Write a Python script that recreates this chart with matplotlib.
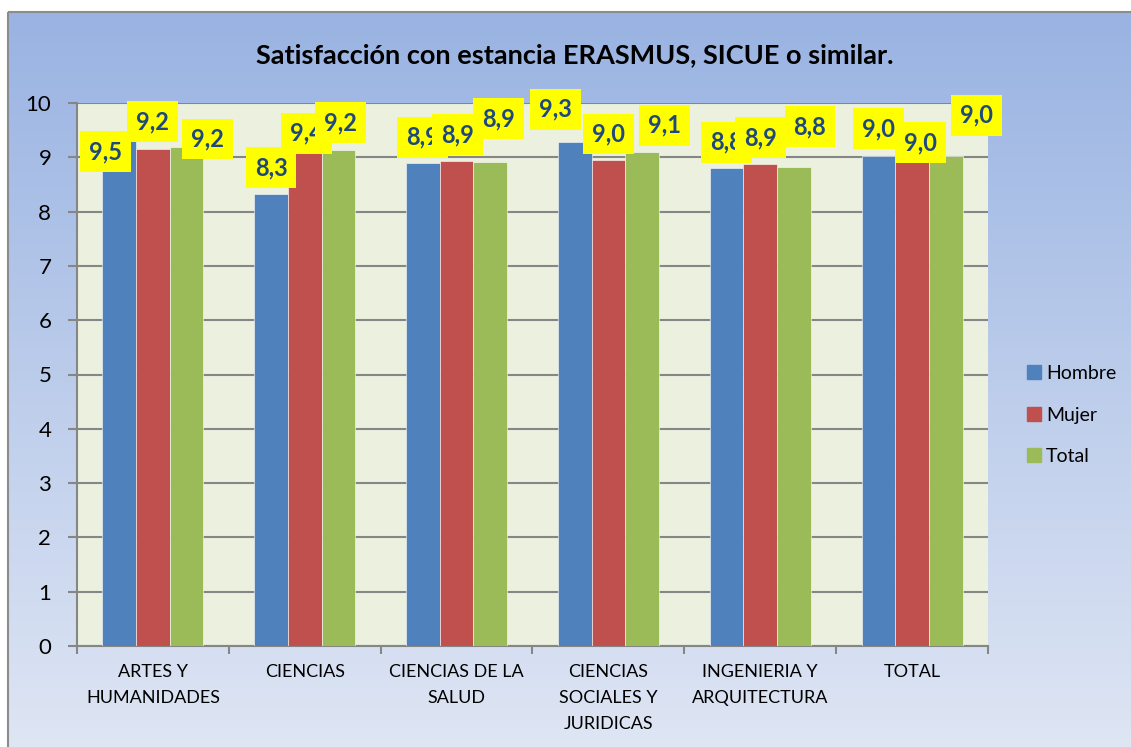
import numpy as np
import matplotlib
matplotlib.use("Agg")
import matplotlib.pyplot as plt
from matplotlib.patches import Rectangle
from matplotlib.lines import Line2D

plt.rcParams['font.family'] = ['Lato', 'DejaVu Sans']

# ---------------- data ----------------
categories = ["ARTES Y\nHUMANIDADES", "CIENCIAS", "CIENCIAS DE LA\nSALUD",
              "CIENCIAS\nSOCIALES Y\nJURIDICAS", "INGENIERIA Y\nARQUITECTURA", "TOTAL"]
series_names = ["Hombre", "Mujer", "Total"]
hombre = [9.49, 8.33, 8.89, 9.28, 8.80, 9.03]
mujer = [9.16, 9.09, 8.94, 8.95, 8.88, 8.97]
total = [9.19, 9.14, 8.92, 9.09, 8.83, 9.02]
labels_hombre = ["9,5", "8,3", "8,9", "9,3", "8,8", "9,0"]
labels_mujer = ["9,2", "9,4", "8,9", "9,0", "8,9", "9,0"]
labels_total = ["9,2", "9,2", "8,9", "9,1", "8,8", "9,0"]
yticks = list(range(0, 11))
title = "Satisfacción con estancia ERASMUS, SICUE o similar."

# ---------------- layout / style ----------------
W, H, DPI = 1131, 747, 100
colors = ["#4F81BD", "#C0504D", "#9BBB59"]
# label offsets (pixels: dx right, dy down) relative to bar top centre
off_h = [(-14, 21), (0, -26), (0, -26), (-19, -33), (0, -26), (0, -27)]
off_m = [(0, -27), (2, -19), (1, -26), (0, -26), (0, -26), (8, -16)]
off_t = [(21, -8), (2, -27), (8, -43), (22, -27), (16, -40), (31, -41)]

fig = plt.figure(figsize=(W / DPI, H / DPI), dpi=DPI)
fig.patch.set_facecolor("white")

# background gradient for chart area
bg = fig.add_axes([0, 0, 1, 1], zorder=-10)
bg.set_xlim(0, W)
bg.set_ylim(H, 0)
bg.axis("off")
top_c = np.array(matplotlib.colors.to_rgb("#99B3E2"))
bot_c = np.array(matplotlib.colors.to_rgb("#DFE6F4"))
t = np.linspace(0, 1, 256)[:, None, None]
grad = top_c[None, None, :] * (1 - t) + bot_c[None, None, :] * t
bg.imshow(grad, extent=[8, W + 5, H + 5, 12], aspect="auto", zorder=0)
bg.add_patch(Rectangle((8, 12), W, H, fill=False, edgecolor="#8C8C8C", lw=1.5, zorder=1))

left, right, top, bottom = 77 / W, 988 / W, 1 - 103 / H, 1 - 646 / H
ax = fig.add_axes([left, bottom, right - left, top - bottom])
ax.set_facecolor("#EBF1DE")

x = np.arange(len(categories))
bw = 0.222
series = [hombre, mujer, total]
labels = [labels_hombre, labels_mujer, labels_total]
offs = [off_h, off_m, off_t]
for i, (vals, c) in enumerate(zip(series, colors)):
    ax.bar(x + (i - 1) * bw, vals, width=bw, color=c, edgecolor="white",
           linewidth=0.4, zorder=3, label=series_names[i])

for i, (vals, labs, off) in enumerate(zip(series, labels, offs)):
    for j, (v, lab, (dx, dy)) in enumerate(zip(vals, labs, off)):
        ax.annotate(lab, xy=(x[j] + (i - 1) * bw, v), xytext=(dx * 0.72, -dy * 0.72),
                    textcoords="offset points", ha="center", va="center",
                    fontsize=17, fontweight="bold", color="#1F497D",
                    bbox=dict(boxstyle="square,pad=0.38", fc="#FFFF00", ec="none"),
                    zorder=5 + i, annotation_clip=False)

ax.set_xlim(-0.5, len(categories) - 0.5)
ax.set_ylim(0, 10)
ax.set_yticks(yticks)
ax.set_yticklabels([str(v) for v in yticks], fontsize=16)
ax.yaxis.grid(True, color="#868686", linewidth=1.5, zorder=1)
ax.set_axisbelow(True)
ax.tick_params(axis="y", length=6.5, width=1.5, color="#868686", pad=12)

ax.set_xticks(x)
ax.set_xticklabels(categories, fontsize=13, linespacing=1.75, va="top")
ax.tick_params(axis="x", length=0, pad=13)
ax.set_xticks(np.arange(-0.5, len(categories)), minor=True)
ax.tick_params(axis="x", which="minor", length=6, width=1.5, color="#868686")

for s in ["top", "right"]:
    ax.spines[s].set_visible(False)
for s in ["left", "bottom"]:
    ax.spines[s].set_color("#868686")
    ax.spines[s].set_linewidth(1.5)

fig.text(575 / W, 1 - 55 / H, title, ha="center", va="center",
         fontsize=19.5, fontweight="bold", color="black")

handles = [Line2D([0], [0], marker="s", linestyle="none", markersize=9.5,
                  markerfacecolor=c, markeredgecolor=c) for c in colors]
fig.legend(handles, series_names, loc="center left",
           bbox_to_anchor=(1005 / W, 1 - 415 / H), frameon=False,
           fontsize=14, handletextpad=0.0, labelspacing=1.25, handlelength=1.2)

fig.savefig("out.png", dpi=DPI)
